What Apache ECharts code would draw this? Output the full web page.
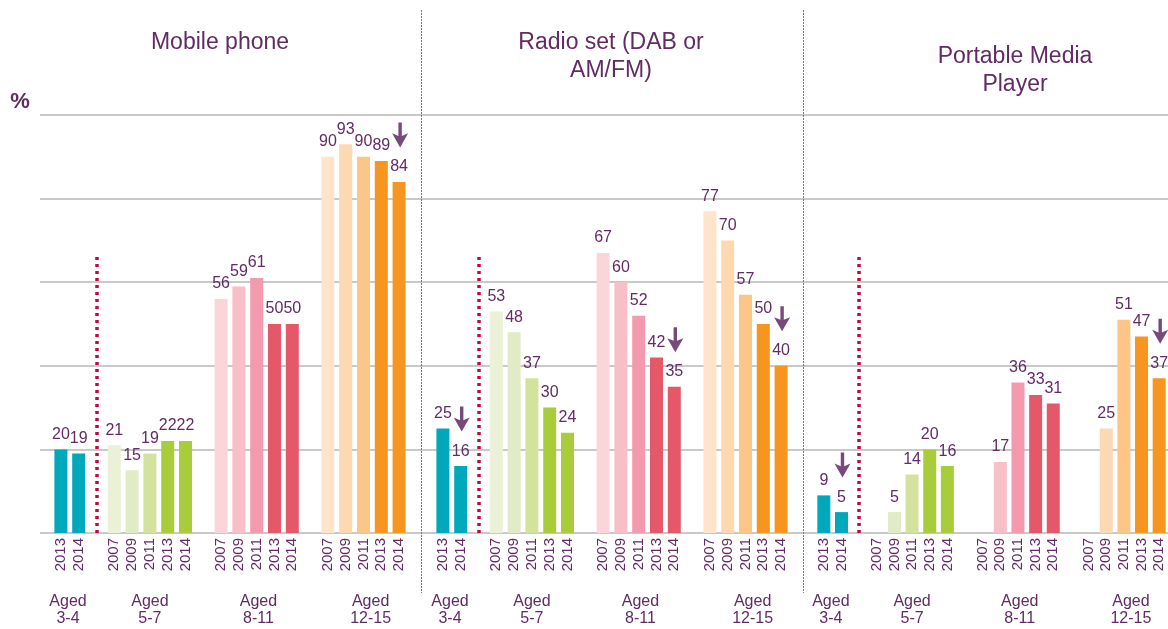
<!DOCTYPE html>
<html>
<head>
<meta charset="utf-8">
<script src="https://cdn.jsdelivr.net/npm/echarts@6/dist/echarts.min.js"></script>
<style>
  html, body { margin: 0; padding: 0; background: #fff; }
  #chart { width: 1168px; height: 629px; }
</style>
</head>
<body>
<div id="chart"></div>
<script>
// slot layout shared by the three panels: 3-4 | 5-7 | 8-11 | 12-15, blank slots between
const years = ['2013', '2014', '',
  '2007', '2009', '2011', '2013', '2014', '',
  '2007', '2009', '2011', '2013', '2014', '',
  '2007', '2009', '2011', '2013', '2014']

const mobile = [20, 19, null, 21, 15, 19, 22, 22, null, 56, 59, 61, 50, 50, null, 90, 93, 90, 89, 84]
const radio = [25, 16, null, 53, 48, 37, 30, 24, null, 67, 60, 52, 42, 35, null, 77, 70, 57, 50, 40]
const pmp = [9, 5, null, null, 5, 14, 20, 16, null, null, 17, 36, 33, 31, null, null, 25, 51, 47, 37]

// slots marked with a significant-decrease arrow
const mobileDown = [19]
const radioDown = [1, 13, 19]
const pmpDown = [1, 19]

const panelTitles = ['Mobile phone', 'Radio set (DAB or\nAM/FM)', 'Portable Media\nPlayer']
const ageGroups = ['Aged\n3-4', 'Aged\n5-7', 'Aged\n8-11', 'Aged\n12-15']
const yTicks = [0, 20, 40, 60, 80, 100]

// ---- styling / layout ----
const FONT = '"Liberation Sans", Arial, sans-serif'
const PURPLE = '#612b63'
const TEAL = '#00a8bb'
const SLOT_COLORS = [TEAL, TEAL, null,
  '#eaf1d6', '#e1ebc6', '#d3e39d', '#a9cd3a', '#a9cd3a', null,
  '#fad6db', '#f8bfc9', '#f49aae', '#e4586a', '#e4586a', null,
  '#fee5ca', '#fdd9b1', '#fbc688', '#f6951f', '#f6951f']
const GRID_LEFT = [52, 434, 815]
const GRID_W = 356
const TITLE_X = [220, 611, 1015]
const TITLE_TOP = [29, 29, 43]
const GROUP_POS = [0.4, 5, 11.1, 17.4]
const SEP_TOP = 66
const ARROW = 'path://M6.3,0 L9.7,0 L9.7,13 L16,10.5 L8,24 L0,10.5 L6.3,13 Z'

const PANELS = [mobile, radio, pmp]
const DOWN = [mobileDown, radioDown, pmpDown]

const chart = echarts.init(document.getElementById('chart'))

const grid = GRID_LEFT.map(l => ({ left: l, width: GRID_W, top: 115, height: 418 }))
grid.push({ left: 40, right: 0, top: 115, height: 418 })

const xAxis = PANELS.map((_, i) => ({
  type: 'category', gridIndex: i, data: years,
  axisLine: { show: false }, axisTick: { show: false },
  axisLabel: { interval: 0, rotate: 90, margin: 5, fontSize: 15, color: PURPLE, fontFamily: FONT },
}))
xAxis.push({ type: 'value', gridIndex: 3, show: false, min: 0, max: 1 })

const yAxis = PANELS.map((_, i) => ({ type: 'value', gridIndex: i, min: 0, max: 100, show: false }))
yAxis.push({
  type: 'value', gridIndex: 3, min: yTicks[0], max: yTicks[yTicks.length - 1], interval: yTicks[1] - yTicks[0],
  axisLine: { show: false }, axisTick: { show: false }, axisLabel: { show: false },
  splitLine: { lineStyle: { color: '#c9c9c9', width: 2 } },
})

const series = []
PANELS.forEach((data, i) => {
  series.push({
    type: 'bar', xAxisIndex: i, yAxisIndex: i, barWidth: 13,
    data,
    itemStyle: { color: p => SLOT_COLORS[p.dataIndex] },
    label: { show: true, position: 'top', distance: 7, fontSize: 16, color: PURPLE, fontFamily: FONT },
    markLine: {
      silent: true, symbol: ['none', 'none'], label: { show: false },
      lineStyle: { color: '#c8053e', width: 3.5, type: [3, 4] },
      data: [[{ coord: [2, 0] }, { coord: [2, SEP_TOP] }]],
    },
  })
  series.push({
    type: 'scatter', xAxisIndex: i, yAxisIndex: i, z: 5,
    symbol: ARROW, symbolSize: [16, 25], symbolOffset: [1, -47],
    itemStyle: { color: '#561c5a' },
    data: DOWN[i].map(k => [k, data[k]]),
  })
})

chart.setOption({
  animation: false,
  textStyle: { fontFamily: FONT },
  title: panelTitles.map((t, i) => ({
    text: t, left: TITLE_X[i], top: TITLE_TOP[i], textAlign: 'center', padding: 0,
    textStyle: { fontSize: 23, lineHeight: 28, fontWeight: 'normal', color: PURPLE, fontFamily: FONT },
  })),
  grid, xAxis, yAxis, series,
})

// group labels and panel dividers, placed from the axes' own pixel scale
const graphic = [{
  type: 'text', x: 20, y: 102,
  style: { text: '%', font: 'bold 22px ' + FONT, fill: PURPLE, align: 'center', verticalAlign: 'middle' },
}]
PANELS.forEach((_, p) => {
  const x0 = chart.convertToPixel({ xAxisIndex: p }, 0)
  const step = chart.convertToPixel({ xAxisIndex: p }, 1) - x0
  ageGroups.forEach((g, k) => {
    graphic.push({
      type: 'text', x: x0 + GROUP_POS[k] * step, y: 610,
      style: { text: g, font: '16px ' + FONT, fill: PURPLE, align: 'center', verticalAlign: 'middle', lineHeight: 17 },
    })
  })
})
for (let p = 0; p < 2; p++) {
  const xd = Math.round((GRID_LEFT[p] + GRID_W + GRID_LEFT[p + 1]) / 2) + 0.5
  graphic.push({
    type: 'line', z: 10, shape: { x1: xd, y1: 10, x2: xd, y2: 593 },
    style: { stroke: '#e2407e', lineWidth: 1, lineDash: [2, 1] },
  })
}
chart.setOption({ graphic })
</script>
</body>
</html>
